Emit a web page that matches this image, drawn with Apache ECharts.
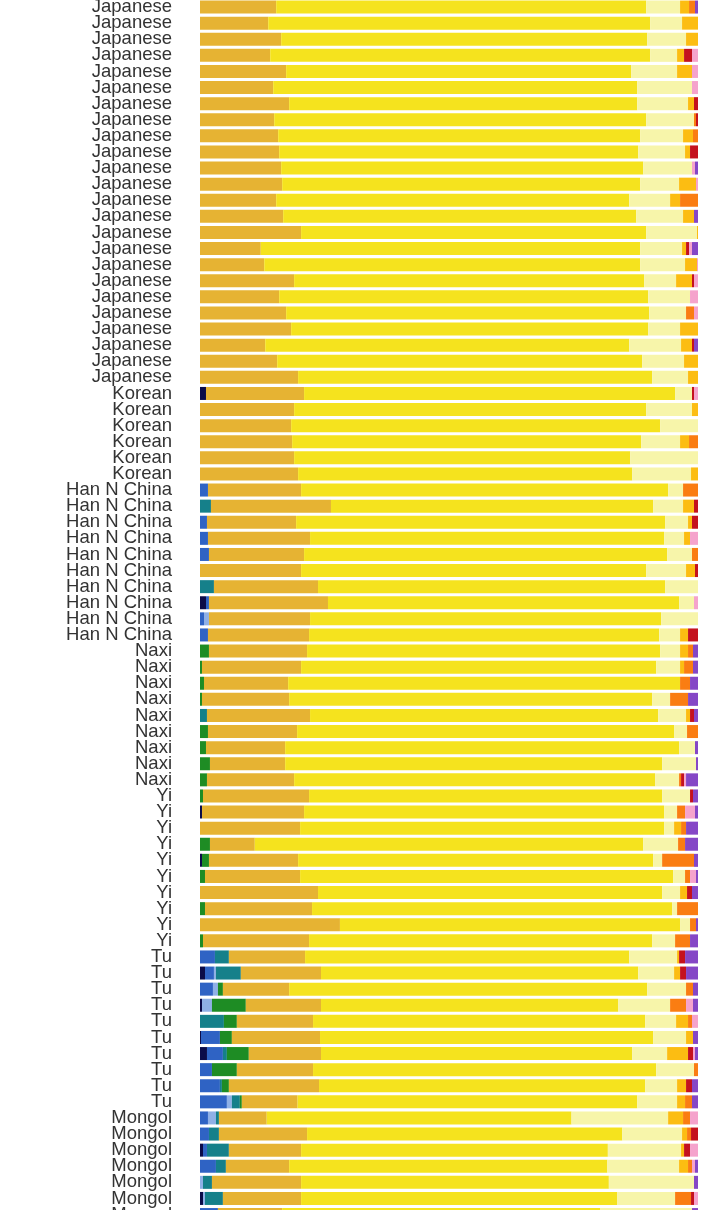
<!DOCTYPE html>
<html><head><meta charset="utf-8">
<script src="https://cdn.jsdelivr.net/npm/echarts@6/dist/echarts.min.js"></script>
<style>html,body{margin:0;padding:0;background:#fff}#c{width:720px;height:1210px}</style>
</head><body><div id="c"></div>
<script>
// component order (left to right)
const components = ['navy','blue','lightblue','teal','green','goldenrod','yellow','paleyellow','amber','orange','red','pink','purple'];
const colors = ['#0B0B48','#2F63C4','#8FB0E6','#15808A','#1E8C24','#E6B333','#F5E31E','#F7F5AA','#FCBD12','#FA7D12','#C4121E','#F5A3CC','#8547C6'];

const japanese = [
[0,0,0,0,0,15.3,74.3,6.8,1.8,1.2,0,0,0.6],
[0,0,0,0,0,13.7,76.7,6.4,3.2,0,0,0,0],
[0,0,0,0,0,16.3,73.5,7.8,2.4,0,0,0,0],
[0,0,0,0,0,14.1,76.3,5.4,1.4,0,1.6,1.2,0],
[0,0,0,0,0,17.3,69.3,9.2,3.0,0,0,1.2,0],
[0,0,0,0,0,14.7,73.1,11.0,0,0,0,1.2,0],
[0,0,0,0,0,17.9,69.9,10.2,1.2,0,0.8,0,0],
[0,0,0,0,0,14.9,74.7,9.6,0,0.4,0.4,0,0],
[0,0,0,0,0,15.7,72.7,8.6,2.0,1.0,0,0,0],
[0,0,0,0,0,15.9,72.1,9.4,1.0,0,1.6,0,0],
[0,0,0,0,0,16.3,72.7,9.8,0,0,0,0.6,0.6],
[0,0,0,0,0,16.5,71.9,7.8,3.4,0,0,0.4,0],
[0,0,0,0,0,15.3,70.9,8.2,2.0,3.6,0,0,0],
[0,0,0,0,0,16.7,70.9,9.4,2.2,0,0,0,0.8],
[0,0,0,0,0,20.3,69.3,10.2,0.2,0,0,0,0],
[0,0,0,0,0,12.2,76.2,8.4,0.8,0,0.6,0.6,1.2],
[0,0,0,0,0,12.9,75.5,9.0,2.4,0,0,0.2,0],
[0,0,0,0,0,18.9,70.3,6.4,3.2,0,0.4,0.8,0],
[0,0,0,0,0,15.9,74.1,8.4,0,0,0,1.6,0],
[0,0,0,0,0,17.3,72.9,7.4,0,1.6,0,0.8,0],
[0,0,0,0,0,18.3,71.7,6.4,3.6,0,0,0,0],
[0,0,0,0,0,13.1,73.1,10.4,2.2,0,0.4,0,0.8],
[0,0,0,0,0,15.5,73.3,8.4,2.8,0,0,0,0],
[0,0,0,0,0,19.7,71.1,7.2,2.0,0,0,0,0]
];
const korean = [
[1.2,0,0,0,0,19.7,74.5,3.4,0,0,0.4,0.8,0],
[0,0,0,0,0,18.9,70.7,9.2,1.2,0,0,0,0],
[0,0,0,0,0,18.3,74.1,7.6,0,0,0,0,0],
[0,0,0,0,0,18.5,70.1,7.8,1.8,1.8,0,0,0],
[0,0,0,0,0,18.9,67.5,13.6,0,0,0,0,0],
[0,0,0,0,0,19.7,67.1,11.8,1.4,0,0,0,0]
];
const hanNChina = [
[0,1.6,0,0,0,18.7,73.7,3.0,0,3.0,0,0,0],
[0,0,0,2.2,0,24.1,64.7,6.0,2.2,0,0.8,0,0],
[0,1.4,0,0,0,17.9,74.1,4.6,0.8,0,1.2,0,0],
[0,1.6,0,0,0,20.5,71.1,4.0,1.2,0,0,1.6,0],
[0,1.8,0,0,0,19.1,72.9,5.0,0,1.2,0,0,0],
[0,0,0,0,0,20.3,69.3,8.0,1.8,0,0.6,0,0],
[0,0,0,2.8,0,20.9,69.7,6.6,0,0,0,0,0],
[1.2,0.6,0,0,0,23.9,70.5,3.0,0,0,0,0.8,0],
[0,0.8,1.0,0,0,20.3,70.5,7.4,0,0,0,0,0],
[0,1.6,0,0,0,20.3,70.3,4.2,1.6,0,2.0,0,0]
];
const naxi = [
[0,0,0,0,1.8,19.7,70.9,4.0,1.6,1.0,0,0,1.0],
[0,0,0,0,0.4,19.9,71.3,4.8,0.8,1.8,0,0,1.0],
[0,0,0,0,0.8,16.9,78.7,0,0,2.0,0,0,1.6],
[0,0,0,0,0.4,17.5,72.9,3.6,0,3.6,0,0,2.0],
[0,0,0,1.4,0,20.7,69.9,5.6,0.8,0,0.8,0,0.8],
[0,0,0,0,1.6,17.9,75.7,2.6,0,2.2,0,0,0],
[0,0,0,0,1.2,15.9,79.1,3.2,0,0,0,0,0.6],
[0,0,0,0,2.0,15.1,75.7,6.8,0,0,0,0,0.4],
[0,0,0,0,1.4,17.5,72.5,4.8,0,0.4,0.6,0.4,2.4]
];
const yi = [
[0,0,0,0,0.6,21.3,70.9,5.6,0,0,0.6,0,1.0],
[0.4,0,0,0,0,20.5,72.3,2.6,0,1.6,0,2.0,0.6],
[0,0,0,0,0,20.1,73.1,2.0,1.4,1.0,0,0,2.4],
[0,0,0,0,2.0,9.0,78.0,7.0,0,1.4,0,0,2.6],
[0.4,0,0,0,1.4,17.9,71.3,1.8,0,6.4,0,0,0.8],
[0,0,0,0,1.0,19.1,74.9,2.4,0,1.0,0,1.2,0.4],
[0,0,0,0,0,23.7,69.1,3.6,1.4,0,1.0,0,1.2],
[0,0,0,0,1.0,21.5,72.3,1.0,0,4.2,0,0,0],
[0,0,0,0,0,28.1,68.3,2.0,0,1.2,0,0,0.4],
[0,0,0,0,0.6,21.3,68.9,4.6,0,3.0,0,0,1.6]
];
const tu = [
[0,3.0,0,2.8,0,15.3,65.1,9.6,0.4,0,1.2,0,2.6],
[1.0,1.8,0.4,5.0,0,16.1,63.7,7.2,1.2,0,1.2,0,2.4],
[0,2.6,1.0,0,1.0,13.3,71.9,7.8,0,1.4,0,0,1.0],
[0.4,0,2.0,0,6.8,15.1,59.7,10.4,0,3.2,0,1.4,1.0],
[0,0,0,4.8,2.6,15.3,66.7,6.2,2.4,0.8,0,1.2,0],
[0.2,3.8,0,0,2.4,17.7,66.9,6.6,1.4,0,0,0,1.0],
[1.4,3.2,0,0.8,4.4,14.5,62.5,7.0,4.2,0,1.0,0.4,0.6],
[0,2.4,0,0,5.0,15.3,68.9,7.6,0,0.8,0,0,0],
[0,4.0,0,0.4,1.4,18.1,65.5,6.4,1.8,0,1.2,0,1.2],
[0,5.4,1.0,1.6,0.4,11.2,68.2,8.0,1.6,1.4,0,0,1.2]
];
const mongol = [
[0,1.6,1.6,0.6,0,9.6,61.2,19.4,3.0,1.4,0,1.6,0],
[0,1.8,0,2.0,0,17.7,63.3,12.0,1.0,0.8,1.4,0,0],
[0.6,0.8,0,4.4,0,14.5,61.6,14.7,0.6,0,1.2,1.6,0],
[0,3.2,0,2.0,0,12.7,63.9,14.4,1.8,0.8,0,0.6,0.6],
[0,0,0.6,1.8,0,17.9,61.8,17.1,0,0,0,0,0.8],
[0.6,0,0.4,3.6,0,15.7,63.5,11.6,0,3.2,0.6,0.8,0],
[0,3.6,0,0,0,12.9,63.9,18.4,0,0,0,0,1.2]
];

const groups = [
  ['Japanese', japanese], ['Korean', korean], ['Han N China', hanNChina],
  ['Naxi', naxi], ['Yi', yi], ['Tu', tu], ['Mongol', mongol]
];
const labels = [];
const rows = [];
groups.forEach(([name, arr]) => arr.forEach(r => { labels.push(name); rows.push(r); }));

const pitch = 16.1;
const series = components.map((c, i) => ({
  name: c, type: 'bar', stack: 'q', barWidth: 13,
  itemStyle: { color: colors[i] },
  data: rows.map(r => r[i]),
  silent: true
}));

const chart = echarts.init(document.getElementById('c'), null, { renderer: 'canvas' });
chart.setOption({
  animation: false,
  backgroundColor: '#ffffff',
  grid: { left: 200, right: 22, top: -1, height: labels.length * pitch, containLabel: false, outerBoundsMode: 'none' },
  xAxis: { type: 'value', min: 0, max: 100, show: false },
  yAxis: {
    type: 'category', inverse: true, data: labels,
    axisLine: { show: false }, axisTick: { show: false }, splitLine: { show: false },
    axisLabel: { interval: 0, margin: 28, fontSize: 18.5, color: '#333', padding: [3, 0, 0, 0], fontFamily: 'Liberation Sans, Arial, sans-serif' }
  },
  series
});
</script></body></html>
